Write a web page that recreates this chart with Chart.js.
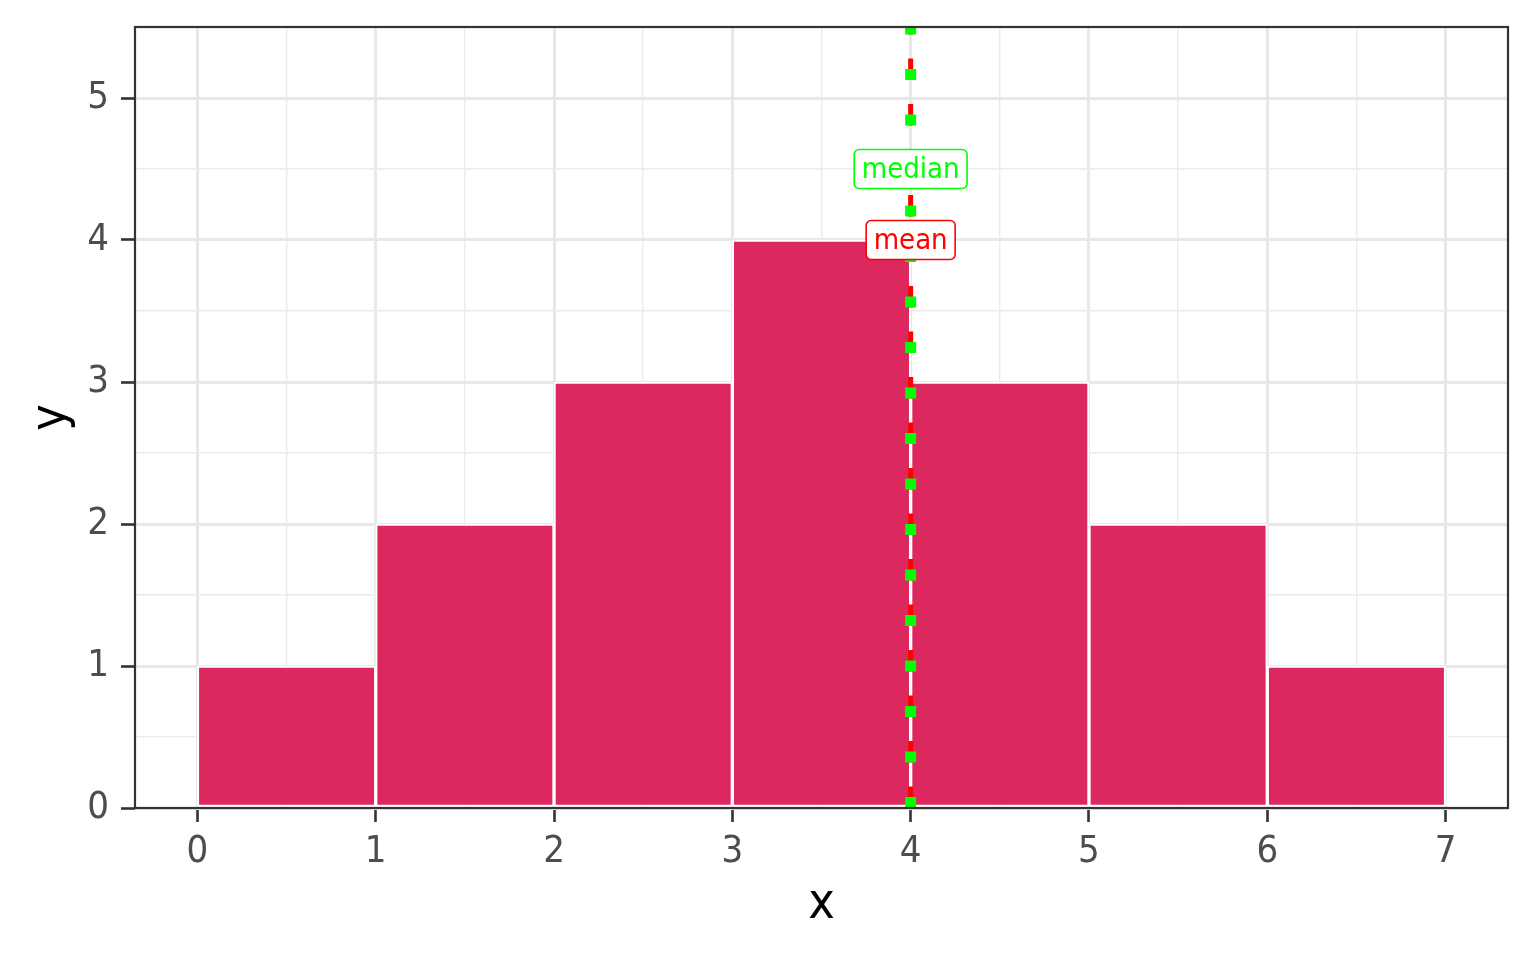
<!doctype html>
<html>
<head>
    <meta charset="utf-8">
    <title>Histogram with mean and median</title>
    <script src="https://cdn.jsdelivr.net/npm/chart.js"></script>
    <style>
        html, body { margin: 0; padding: 0; background: #ffffff; }
        #wrap { width: 1536px; height: 960px; }
    </style>
</head>
<body>
<div id="wrap">
    <canvas id="myChart" width="1536" height="960"></canvas>
</div>

<script>
    // histogram bins (left edge) and counts
    var binStarts = [0, 1, 2, 3, 4, 5, 6];
    var binWidth = 1;
    var counts = [1, 2, 3, 4, 3, 2, 1];

    // summary lines
    var meanValue = 4;
    var medianValue = 4;
    var meanLabelY = 4;
    var medianLabelY = 4.5;

    // axis ticks
    var xTicks = [0, 1, 2, 3, 4, 5, 6, 7];
    var xMinorTicks = [0.5, 1.5, 2.5, 3.5, 4.5, 5.5, 6.5];
    var yTicks = [0, 1, 2, 3, 4, 5];
    var yMinorTicks = [0.5, 1.5, 2.5, 3.5, 4.5];
    var xRange = [-0.35, 7.35];
    var yRange = [0, 5.5];

    var fontFamily = '"Liberation Sans Narrow", "DejaVu Sans Condensed", "Noto Sans", sans-serif';

    var isMajor = function (v) { return Math.abs(v - Math.round(v)) < 1e-9; };

    var barData = [];
    for (var i = 0; i < binStarts.length; i++) {
        barData.push({ x: binStarts[i] + binWidth / 2, y: counts[i] });
    }

    // panel border + mean/median labels
    var panelPlugin = {
        id: 'panel',
        afterDatasetsDraw: function (chart) {
            var ctx = chart.ctx;
            var a = chart.chartArea;
            ctx.save();
            ctx.strokeStyle = '#333333';
            ctx.lineWidth = 2.2;
            ctx.strokeRect(a.left, a.top, a.right - a.left, a.bottom - a.top);

            var xs = chart.scales.x, ys = chart.scales.y;
            drawLabel(ctx, 'median', xs.getPixelForValue(medianValue), ys.getPixelForValue(medianLabelY), '#00ff00');
            drawLabel(ctx, 'mean', xs.getPixelForValue(meanValue), ys.getPixelForValue(meanLabelY), '#ff0000');
            ctx.restore();
        }
    };

    function drawLabel(ctx, text, cx, cy, color) {
        ctx.font = '29px ' + fontFamily;
        var w = ctx.measureText(text).width + 15;
        var h = 39;
        var x = cx - w / 2, y = cy - h / 2, r = 5;
        ctx.beginPath();
        ctx.moveTo(x + r, y);
        ctx.lineTo(x + w - r, y);
        ctx.arcTo(x + w, y, x + w, y + r, r);
        ctx.lineTo(x + w, y + h - r);
        ctx.arcTo(x + w, y + h, x + w - r, y + h, r);
        ctx.lineTo(x + r, y + h);
        ctx.arcTo(x, y + h, x, y + h - r, r);
        ctx.lineTo(x, y + r);
        ctx.arcTo(x, y, x + r, y, r);
        ctx.closePath();
        ctx.fillStyle = '#ffffff';
        ctx.fill();
        ctx.lineWidth = 1.6;
        ctx.strokeStyle = color;
        ctx.stroke();
        ctx.fillStyle = color;
        ctx.textAlign = 'center';
        ctx.textBaseline = 'middle';
        ctx.fillText(text, cx, cy + 1);
    }

    var myChart = new Chart(document.getElementById('myChart'), {
        type: 'bar',
        data: {
            datasets: [{
                type: 'line',
                label: 'median',
                data: [{ x: medianValue, y: yRange[0] }, { x: medianValue, y: yRange[1] }],
                borderColor: '#00ff00',
                borderWidth: 11,
                borderDash: [11, 34.5],
                borderCapStyle: 'butt',
                pointRadius: 0,
                order: 0
            }, {
                type: 'line',
                label: 'mean',
                data: [{ x: meanValue, y: yRange[0] }, { x: meanValue, y: yRange[1] }],
                borderColor: '#ff0000',
                borderWidth: 5,
                borderDash: [21.5, 24],
                borderCapStyle: 'butt',
                pointRadius: 0,
                order: 1
            }, {
                type: 'bar',
                label: 'count',
                data: barData,
                backgroundColor: '#dd285f',
                borderColor: '#ffffff',
                borderWidth: 2,
                borderSkipped: false,
                barPercentage: 1,
                categoryPercentage: 1,
                order: 2
            }]
        },
        options: {
            responsive: false,
            animation: false,
            layout: { padding: { top: 27, right: 28, left: 0, bottom: 0 } },
            plugins: {
                legend: { display: false },
                tooltip: { enabled: false }
            },
            scales: {
                xMinor: {
                    type: 'linear',
                    position: 'bottom',
                    min: xRange[0],
                    max: xRange[1],
                    offset: false,
                    afterBuildTicks: function (scale) {
                        scale.ticks = xMinorTicks.map(function (v) { return { value: v }; });
                    },
                    afterFit: function (scale) { scale.height = 0; },
                    grid: { offset: false, color: '#ebebeb', lineWidth: 1.4, drawTicks: false },
                    border: { display: false },
                    ticks: { display: false }
                },
                x: {
                    type: 'linear',
                    min: xRange[0],
                    max: xRange[1],
                    offset: false,
                    afterBuildTicks: function (scale) {
                        scale.ticks = xTicks.map(function (v) { return { value: v }; });
                    },
                    afterFit: function (scale) {
                        scale.height = 152;
                        scale.paddingLeft = 0;
                        scale.paddingRight = 0;
                    },
                    grid: {
                        offset: false,
                        color: '#e8e8e8',
                        lineWidth: 3,
                        tickLength: 14,
                        tickColor: '#333333',
                        tickWidth: 2.6
                    },
                    border: { display: false },
                    ticks: {
                        autoSkip: false,
                        maxRotation: 0,
                        padding: 7,
                        color: '#4d4d4d',
                        font: { family: fontFamily, size: 38 }
                    },
                    title: {
                        display: true,
                        text: 'x',
                        color: '#000000',
                        font: { family: fontFamily, size: 50 },
                        padding: { top: 0, bottom: 25 }
                    }
                },
                y: {
                    type: 'linear',
                    min: yRange[0],
                    max: yRange[1],
                    afterBuildTicks: function (scale) {
                        scale.ticks = yTicks.concat(yMinorTicks).sort(function (a, b) { return a - b; })
                            .map(function (v) { return { value: v }; });
                    },
                    afterFit: function (scale) {
                        scale.width = 135;
                        scale.paddingTop = 0;
                        scale.paddingBottom = 0;
                    },
                    grid: {
                        color: function (ctx) { return ctx.tick && isMajor(ctx.tick.value) ? '#e8e8e8' : '#ebebeb'; },
                        lineWidth: function (ctx) { return ctx.tick && isMajor(ctx.tick.value) ? 3 : 1.4; },
                        tickLength: 14,
                        tickColor: function (ctx) { return ctx.tick && isMajor(ctx.tick.value) ? '#333333' : 'rgba(0,0,0,0)'; },
                        tickWidth: 2.6
                    },
                    border: { display: false },
                    ticks: {
                        autoSkip: false,
                        padding: 12,
                        color: '#4d4d4d',
                        font: { family: fontFamily, size: 38 },
                        callback: function (v) { return isMajor(v) ? String(v) : ''; }
                    },
                    title: {
                        display: true,
                        text: 'y',
                        color: '#000000',
                        font: { family: fontFamily, size: 50 },
                        padding: { top: 22, bottom: 0 }
                    }
                }
            }
        },
        plugins: [panelPlugin]
    });
</script>
</body>
</html>
